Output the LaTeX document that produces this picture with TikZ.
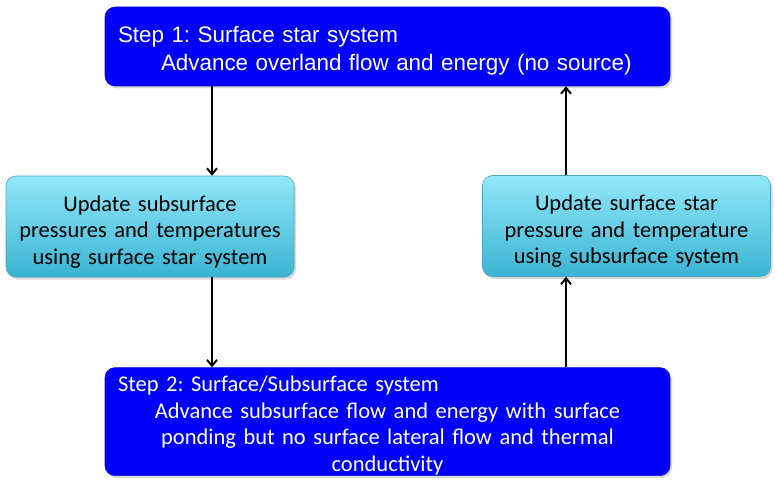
\documentclass[tikz,border=0pt]{standalone}
\usepackage{fontspec}
\setmainfont{Carlito}
\newfontfamily\arialfont{Liberation Sans}
\usetikzlibrary{arrows.meta,positioning,shadows}
\frenchspacing
\definecolor{stepblue}{RGB}{0,0,250}
\definecolor{stepedge}{RGB}{20,20,190}
\definecolor{cyantop}{RGB}{146,232,250}
\definecolor{cyanbot}{RGB}{58,180,210}
\definecolor{cyanedge}{RGB}{80,165,190}

\begin{document}
\begin{tikzpicture}[
        x=1pt, y=-1pt,
        font=\fontsize{22.5}{28}\selectfont,
        stepbox/.style={draw=stepedge, line width=0.6pt, fill=stepblue, rounded corners=10pt, text=white, align=left, text width=539pt, minimum width=565pt, inner sep=0pt, drop shadow={opacity=0.3, shadow xshift=2pt, shadow yshift=-2.5pt}},
        update/.style={draw=cyanedge, line width=0.6pt, top color=cyantop, bottom color=cyanbot, rounded corners=10pt, align=center, text width=288pt, text height=35pt, text depth=66pt, inner sep=0pt, drop shadow={opacity=0.3, shadow xshift=2pt, shadow yshift=-2.5pt}},
        line/.style={-{Straight Barb[length=6pt,width=10pt]}, line width=1.9pt}
    ]
        \useasboundingbox (0,0) rectangle (775,484);

        \node[stepbox, minimum height=79pt, font=\arialfont\fontsize{22.4}{28}\selectfont] (surfstar) at (387.5,46.5) {Step 1: Surface star system\\\hspace*{43pt}Advance overland flow and energy (no source)\par\vspace{-9pt}};
        \node[stepbox, minimum height=108pt, font=\fontsize{22.5}{26.5}\selectfont, below=281pt of surfstar] (surfsub) {Step 2: Surface/Subsurface system\par\centering Advance subsurface flow and energy with surface\\ ponding but no surface lateral flow and thermal\\ conductivity\par\vspace{-8pt}};
        \node[update, font=\fontsize{22.5}{26.5}\selectfont] (updsub) at (150,226.5) {Update subsurface\\ pressures and temperatures\\ using surface star system};
        \node[update, font=\fontsize{22.5}{26.5}\selectfont] (updsurf) at (626.5,226) {Update surface star\\ pressure and temperature\\ using subsurface system};

        \coordinate (lcol) at (212,0);
        \coordinate (rcol) at (566,0);

        \draw[line] (surfstar.south -| lcol) -- (updsub.north -| lcol);
        \draw[line] (updsub.south -| lcol) -- (surfsub.north -| lcol);
        \draw[line] (surfsub.north -| rcol) -- (updsurf.south -| rcol);
        \draw[line] (updsurf.north -| rcol) -- (surfstar.south -| rcol);
    \end{tikzpicture}
\end{document}
